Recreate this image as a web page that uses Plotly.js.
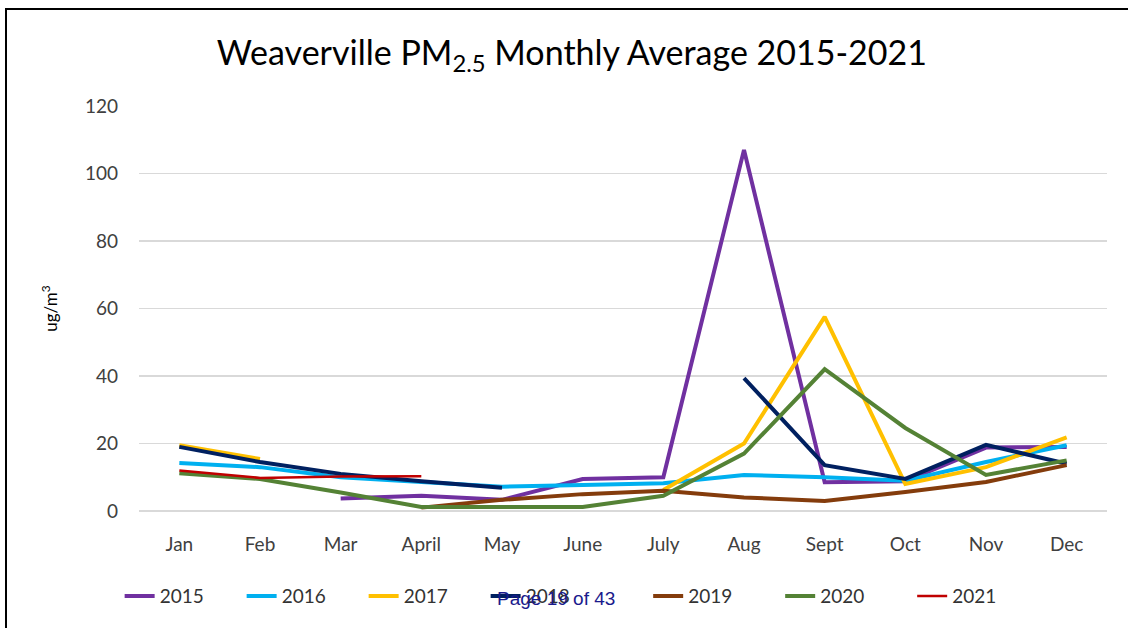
<!DOCTYPE html>
<html>
<head>
<meta charset="utf-8">
<script src="https://cdn.plot.ly/plotly-3.0.1.min.js"></script>
<style>
html,body{margin:0;padding:0;background:#fff;}
#wrap{position:relative;width:1128px;height:628px;overflow:hidden;}
#chart{position:absolute;left:0;top:0;width:1128px;height:628px;}
#frame{position:absolute;left:5px;top:8px;width:1130px;height:640px;border-top:2px solid #000;border-left:2px solid #000;pointer-events:none;}
</style>
</head>
<body>
<div id="wrap"><div id="chart"></div><div id="frame"></div></div>
<script>
const months = ["Jan","Feb","Mar","April","May","June","July","Aug","Sept","Oct","Nov","Dec"];
const y2015 = [null, null, 3.7, 4.5, 3.3, 9.5, 10, 107, 8.5, 8.8, 18.8, 19];
const y2016 = [14.2, 13, 10, 8.5, 7.2, 7.7, 8.2, 10.7, 10, 9, 14.5, 19.5];
const y2017 = [19.5, 15.4, null, null, null, null, 6.2, 20, 57.5, 8, 13, 21.8];
const y2018 = [19, 14.5, 11, 8.8, 6.9, null, null, 39.4, 13.6, 9.5, 19.6, 14];
const y2019 = [null, null, null, 1, 3.3, 5, 6, 4, 3, 5.6, 8.6, 13.6];
const y2020 = [11.2, 9.5, 5.5, 1.2, 1.2, 1.2, 4.5, 17, 42, 24.6, 10.7, 15];
const y2021 = [12, 9.8, 10.2, 10.3, null, null, null, null, null, null, null, null];
const years = ["2015","2016","2017","2018","2019","2020","2021"];
const colors = ["#7030A0","#00B0F0","#FFC000","#002060","#843C0C","#548235","#C00000"];
const widths = [4, 4, 4, 4, 4, 4, 2.5];
const series = [y2015, y2016, y2017, y2018, y2019, y2020, y2021];

const traces = series.map((s, i) => ({
  x: months, y: s, name: years[i], type: "scatter", mode: "lines",
  line: {color: colors[i], width: widths[i]},
  connectgaps: false,
  legend: i < 4 ? "legend" : "legend2"
}));

const legendFont = {size: 19, color: "#333333"};
const layout = {
  width: 1128, height: 628,
  margin: {l: 139, r: 21, t: 106, b: 117},
  paper_bgcolor: "#fff", plot_bgcolor: "#fff",
  title: {text: "Weaverville PM<sub>2.5</sub> Monthly Average 2015-2021", font: {family: "Lato, 'Open Sans', sans-serif", size: 34, color: "#000"}, x: 0.507, xanchor: "center", y: 0.915, yanchor: "middle"},
  font: {family: "Lato, 'Open Sans', sans-serif", color: "#404040"},
  xaxis: {type: "category", range: [-0.5, 11.5], showgrid: false, zeroline: false, showline: false, ticks: "", tickfont: {size: 19, color: "#404040"}, ticklabelstandoff: 20, fixedrange: true, automargin: false},
  yaxis: {range: [0, 120], dtick: 20, showgrid: true, gridcolor: "#d9d9d9", gridwidth: 1.5, zeroline: true, zerolinecolor: "#d9d9d9", zerolinewidth: 1.5, showline: false, ticks: "", tickfont: {size: 19, color: "#404040"}, ticklabelstandoff: 20, automargin: false,
    title: {text: "ug/m<sup>3</sup>", font: {size: 17, color: "#000"}, standoff: 22}},
  legend: {orientation: "h", x: -0.02, xanchor: "left", y: -0.21, yanchor: "middle", font: legendFont, entrywidth: 77, entrywidthmode: "pixels", tracegroupgap: 0},
  legend2: {orientation: "h", x: 0.526, xanchor: "left", y: -0.21, yanchor: "middle", font: legendFont, entrywidth: 87, entrywidthmode: "pixels", tracegroupgap: 0},
  showlegend: true,
  annotations: [{text: "Page 19 of 43", xref: "paper", yref: "paper", x: 0.431, y: -0.215, xanchor: "center", yanchor: "middle", showarrow: false, font: {family: "Liberation Sans, Arial, sans-serif", size: 19, color: "#1a1a8c"}}]
};
Plotly.newPlot("chart", traces, layout, {displayModeBar: false, staticPlot: true});
</script>
</body>
</html>
